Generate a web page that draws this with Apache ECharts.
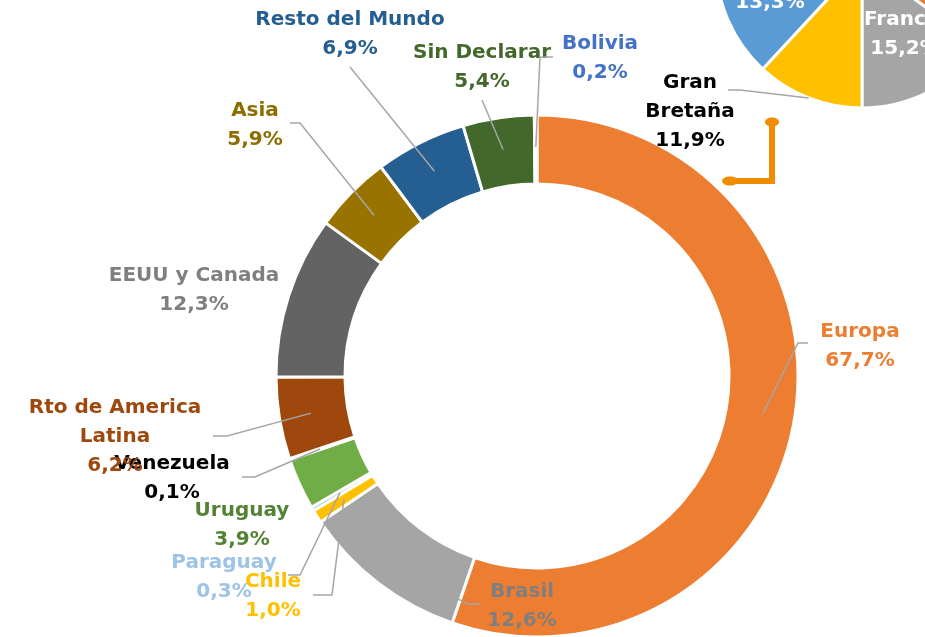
<!DOCTYPE html>
<html>
<head>
<meta charset="utf-8">
<script src="https://cdn.jsdelivr.net/npm/echarts@6/dist/echarts.min.js"></script>
<style>
  html, body { margin: 0; padding: 0; background: #fff; }
  #chart { width: 925px; height: 637px; }
</style>
</head>
<body>
<div id="chart"></div>
<script>
// anillo principal: regiones en sentido horario desde las 12
const regiones = ['Europa', 'Brasil', 'Chile', 'Paraguay', 'Uruguay', 'Venezuela',
  'Rto de America\nLatina', 'EEUU y Canada', 'Asia', 'Resto del Mundo', 'Sin Declarar', 'Bolivia']
const porcRegiones = [67.7, 12.6, 1.0, 0.3, 3.9, 0.1, 6.2, 12.3, 5.9, 6.9, 5.4, 0.2]

// torta de paises europeos (recortada arriba a la derecha)
const paises = ['Otros 1', 'Otros 2', 'Francia', 'Gran\nBretaña', 'Otros 3', 'Otros 4']
const porcPaises = [18.0, 16.8, 15.2, 11.9, 13.3, 24.8]

// estilos
const coloresRegiones = ['#ED7D31', '#A5A5A5', '#FFC000', '#9DC3E6', '#70AD47', '#1F1F1F',
  '#9E480E', '#636363', '#997300', '#255E91', '#43682B', '#4472C4']
const coloresTexto = ['#ED7D31', '#7F7F7F', '#FFC000', '#9DC3E6', '#548235', '#000000',
  '#9E480E', '#7F7F7F', '#8C6D00', '#255E91', '#43682B', '#4472C4']
const posEtiquetas = [[860, 346], [522, 606], [273, 596], [224, 577], [242, 525], [172, 478],
  [115, 437], [194, 290], [255, 125], [350, 34], [482, 67], [600, 58]]
// quiebres de las lineas guia (null = sin linea)
const quiebres = [[[798, 343], [808, 343]], [[467, 604], [480, 604]], [[332, 595], [313, 595]],
  [[300, 575], [288, 575]], null, [[255, 477], [242, 477]], [[227, 436], [213, 436]], null,
  [[300, 123], [290, 123]], [[350, 67]], [[482, 100]], [[540, 57], [553, 57]]]
// donde arranca la linea dentro de la porcion (fraccion del angulo, radio)
const arranque = [[0.5, 229], [0.03, 236], [0.5, 229], [0.5, 229], [0.5, 229], [0.5, 229],
  [0.5, 229], [0.5, 229], [0.5, 229], [0.5, 229], [0.5, 229], [0.5, 229]]

const coloresPaises = ['#4472C4', '#ED7D31', '#A5A5A5', '#FFC000', '#5B9BD5', '#70AD47']
const posPaises = [null, null, [905, 34], [690, 112], [770, 3], null]
const quiebresPaises = [null, null, null, [[740, 90], [728, 90]], null, null]

const centro = [537, 376]
const centroPaises = [862, -38]

const fmt = v => v.toFixed(1).replace('.', ',') + '%'
const fuente = { fontFamily: 'DejaVu Sans', fontWeight: 'bold', fontSize: 20, lineHeight: 29 }

// punto sobre la porcion i (angulo horario desde las 12)
function puntoPorcion(valores, i, frac, r, c) {
  const total = valores.reduce((a, b) => a + b, 0)
  let acum = 0
  for (let k = 0; k < i; k++) acum += valores[k]
  const ang = (acum + valores[i] * frac) / total * 2 * Math.PI
  return [c[0] + r * Math.sin(ang), c[1] - r * Math.cos(ang)]
}

// lineas guia encima de las porciones
const lineas = []
quiebres.forEach((q, i) => {
  if (!q) return
  const ini = puntoPorcion(porcRegiones, i, arranque[i][0], arranque[i][1], centro)
  lineas.push({ type: 'polyline', z: 100, shape: { points: [ini].concat(q) },
    style: { stroke: '#A6A6A6', lineWidth: 1.5, fill: null } })
})
quiebresPaises.forEach((q, i) => {
  if (!q) return
  const ini = puntoPorcion(porcPaises, i, 0.5, 146, centroPaises)
  lineas.push({ type: 'polyline', z: 100, shape: { points: [ini].concat(q) },
    style: { stroke: '#A6A6A6', lineWidth: 1.5, fill: null } })
})

const chart = echarts.init(document.getElementById('chart'))

const option = {
  animation: false,
  series: [
    {
      type: 'pie',
      center: centro,
      radius: [192, 261],
      startAngle: 90,
      clockwise: true,
      avoidLabelOverlap: false,
      silent: true,
      itemStyle: { borderColor: '#fff', borderWidth: 3 },
      label: Object.assign({ show: true, align: 'center' }, fuente),
      labelLine: { show: false },
      labelLayout: p => ({
        x: posEtiquetas[p.dataIndex][0],
        y: posEtiquetas[p.dataIndex][1],
        align: 'center',
        verticalAlign: 'middle'
      }),
      data: regiones.map((n, i) => ({
        name: n,
        value: porcRegiones[i],
        itemStyle: { color: coloresRegiones[i] },
        label: { color: coloresTexto[i], formatter: n + '\n' + fmt(porcRegiones[i]) }
      }))
    },
    {
      type: 'pie',
      center: centroPaises,
      radius: 146,
      startAngle: 90,
      clockwise: true,
      avoidLabelOverlap: false,
      silent: true,
      itemStyle: { borderColor: '#fff', borderWidth: 3 },
      label: Object.assign({ show: true, align: 'center' }, fuente),
      labelLine: { show: false },
      labelLayout: p => posPaises[p.dataIndex] ? {
        x: posPaises[p.dataIndex][0],
        y: posPaises[p.dataIndex][1],
        align: 'center',
        verticalAlign: 'middle'
      } : {},
      data: paises.map((n, i) => ({
        name: n,
        value: porcPaises[i],
        itemStyle: { color: coloresPaises[i] },
        label: {
          show: posPaises[i] != null,
          color: i === 3 ? '#000' : '#fff',
          formatter: i === 4 ? fmt(porcPaises[i]) : n + '\n' + fmt(porcPaises[i])
        }
      }))
    }
  ],
  graphic: lineas.concat([
    // conector naranja dibujado a mano en el original
    { type: 'polyline', z: 100, shape: { points: [[772, 122], [772, 181], [728, 181]] },
      style: { stroke: '#F08C00', lineWidth: 6, fill: null } },
    { type: 'ellipse', z: 100, shape: { cx: 772, cy: 122, rx: 7, ry: 4.5 }, style: { fill: '#F08C00' } },
    { type: 'ellipse', z: 100, shape: { cx: 730, cy: 181, rx: 8, ry: 4.5 }, style: { fill: '#F08C00' } }
  ])
}

chart.setOption(option)
</script>
</body>
</html>
